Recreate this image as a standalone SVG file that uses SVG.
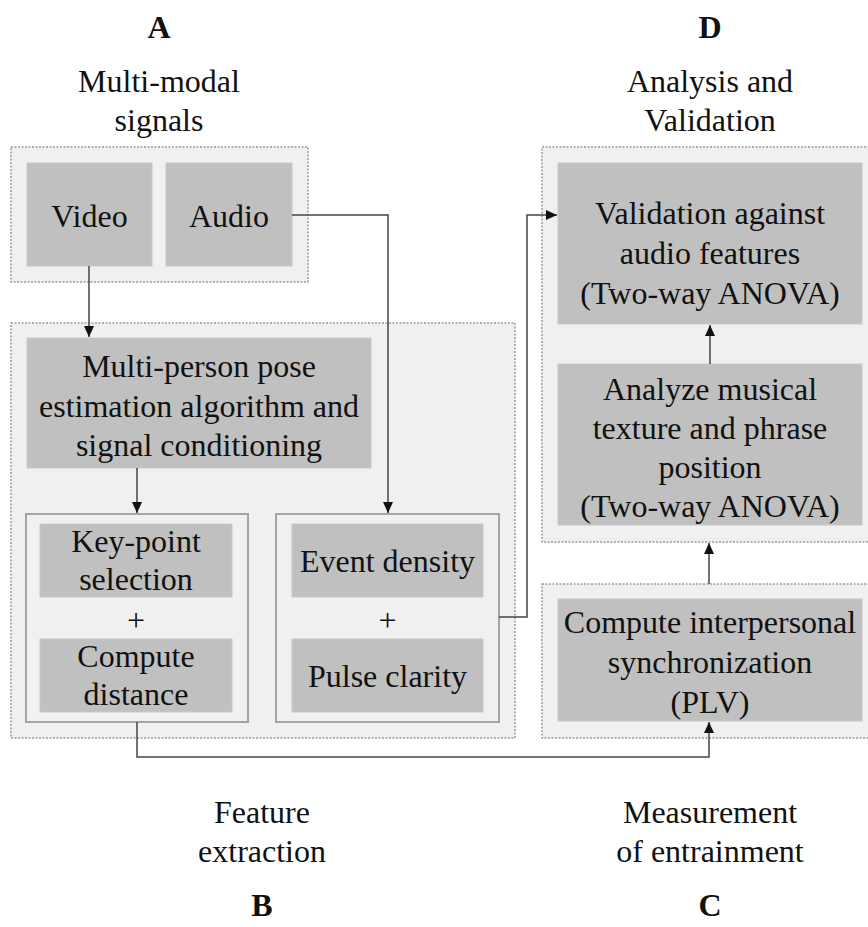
<svg xmlns="http://www.w3.org/2000/svg" width="868" height="927" viewBox="0 0 868 927">
<style>
text{font-family:"Liberation Serif","Times New Roman",serif;font-size:32px;fill:#111;text-anchor:middle}
.t{font-weight:bold}
.panel{fill:#f0f0f0;stroke:#9a9a9a;stroke-width:1.5;stroke-dasharray:2 1.5}
.box{fill:#c0c0c0;stroke:#c8c8c8;stroke-width:1}
.grp{fill:#f0f0f0;stroke:#a4a4a4;stroke-width:2}
.ln{fill:none;stroke:#444;stroke-width:1.5}
</style>
<defs>
<marker id="ah" markerWidth="12" markerHeight="12" viewBox="0 0 12 12" refX="11" refY="6" orient="auto" markerUnits="userSpaceOnUse">
<path d="M0,1 L11,6 L0,11 Z" fill="#111"/>
</marker>
</defs>
<rect width="868" height="927" fill="#fff"/>

<g id="labels">
<text class="t" x="159" y="38">A</text>
<text x="159" y="92">Multi-modal</text>
<text x="159" y="131">signals</text>
<text class="t" x="710" y="38">D</text>
<text x="710" y="92">Analysis and</text>
<text x="710" y="131">Validation</text>
<text x="262" y="823">Feature</text>
<text x="262" y="862">extraction</text>
<text class="t" x="262" y="916">B</text>
<text x="710" y="823">Measurement</text>
<text x="710" y="862">of entrainment</text>
<text class="t" x="710" y="916">C</text>
</g>

<g id="panels">
<rect class="panel" x="11" y="147" width="297" height="135"/>
<rect class="panel" x="11" y="323" width="504" height="415"/>
<rect class="panel" x="542" y="147" width="340" height="395"/>
<rect class="panel" x="542" y="584" width="340" height="154"/>
</g>

<g id="video">
<rect class="box" x="27" y="163" width="125" height="103"/>
<text x="89.5" y="227">Video</text>
</g>
<g id="audio">
<rect class="box" x="166" y="163" width="126" height="103"/>
<text x="229" y="227">Audio</text>
</g>

<g id="pose">
<rect class="box" x="27" y="338" width="344" height="130"/>
<text x="199" y="377">Multi-person pose</text>
<text x="199" y="417">estimation algorithm and</text>
<text x="199" y="456">signal conditioning</text>
</g>

<g id="motion-features">
<rect class="grp" x="26" y="514" width="222" height="208"/>
<rect class="box" x="40" y="524" width="192" height="73"/>
<text x="136" y="552">Key-point</text>
<text x="136" y="590">selection</text>
<text x="136" y="631">+</text>
<rect class="box" x="40" y="639" width="192" height="73"/>
<text x="136" y="667">Compute</text>
<text x="136" y="705">distance</text>
</g>

<g id="audio-features">
<rect class="grp" x="276" y="514" width="223" height="208"/>
<rect class="box" x="292" y="524" width="191" height="73"/>
<text x="387.5" y="572">Event density</text>
<text x="387.5" y="631">+</text>
<rect class="box" x="292" y="639" width="191" height="73"/>
<text x="387.5" y="687">Pulse clarity</text>
</g>

<g id="validation">
<rect class="box" x="558" y="163" width="304" height="161"/>
<text x="710" y="224">Validation against</text>
<text x="710" y="264">audio features</text>
<text x="710" y="304">(Two-way ANOVA)</text>
</g>

<g id="analyze">
<rect class="box" x="558" y="364" width="304" height="161"/>
<text x="710" y="400">Analyze musical</text>
<text x="710" y="439">texture and phrase</text>
<text x="710" y="478">position</text>
<text x="710" y="517">(Two-way ANOVA)</text>
</g>

<g id="plv">
<rect class="box" x="558" y="599" width="304" height="122"/>
<text x="710" y="633">Compute interpersonal</text>
<text x="710" y="673">synchronization</text>
<text x="710" y="713">(PLV)</text>
</g>

<g id="connectors">
<path class="ln" d="M89,266 V337" marker-end="url(#ah)"/>
<path class="ln" d="M292,215 H388 V513" marker-end="url(#ah)"/>
<path class="ln" d="M137,468 V513" marker-end="url(#ah)"/>
<path class="ln" d="M499,617 H527 V215 H557" marker-end="url(#ah)"/>
<path class="ln" d="M137,722 V757 H709 V722" marker-end="url(#ah)"/>
<path class="ln" d="M709,584 V543" marker-end="url(#ah)"/>
<path class="ln" d="M710,364 V325" marker-end="url(#ah)"/>
</g>
</svg>
